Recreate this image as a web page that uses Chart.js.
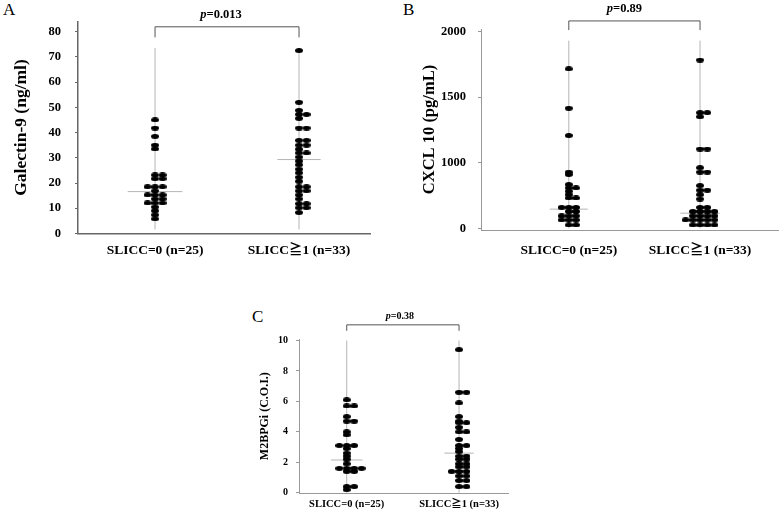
<!DOCTYPE html>
<html>
<head>
<meta charset="utf-8">
<script src="https://cdn.jsdelivr.net/npm/chart.js@4.4.1/dist/chart.umd.min.js"></script>
<style>
  body { margin: 0; background: #fff; width: 783px; height: 514px; position: relative; overflow: hidden; font-family: "Liberation Serif", serif; }
  .panel { position: absolute; }
  .tag { position: absolute; font-size: 17px; line-height: 17px; color: #000; }
</style>
</head>
<body>
<div class="tag" style="left:3px;top:1px">A</div>
<div class="tag" style="left:403px;top:1px">B</div>
<div class="tag" style="left:252px;top:308px">C</div>
<div class="panel" style="left:0;top:0;width:390px;height:270px"><canvas id="chartA"></canvas></div>
<div class="panel" style="left:390px;top:0;width:393px;height:270px"><canvas id="chartB"></canvas></div>
<div class="panel" style="left:220px;top:300px;width:300px;height:214px"><canvas id="chartC"></canvas></div>
<script>
// groups on the x axis
const groups = ["SLICC=0 (n=25)", "SLICC\u22671 (n=33)"];

// A: Galectin-9 (ng/ml)
const galLow = [45, 41.8, 38.5, 35, 33.5, 23.2, 23.2, 21.7, 21.7, 18.5, 18.5, 18.5, 16.9,
  15.3, 15.3, 15.3, 13.7, 13.7, 12.1, 12.1, 12.1, 10.5, 9, 7.4, 5.8];
const galHigh = [72.5, 52, 48.8, 47.2, 47.2, 45.6, 41.8, 41.8, 36.9, 36.9, 35, 35, 33.4,
  31.9, 31.9, 30.3, 28.7, 27.2, 25.5, 24, 22.3, 20.7, 18.5, 18.5, 16.9, 16.9, 15.3, 13.7,
  11.8, 11.8, 10.2, 10.2, 8.3];
const galMedian = [16.6, 29.3];
const galRange = [1.6, 73.5];
const galTicks = [0, 10, 20, 30, 40, 50, 60, 70, 80];

// B: CXCL 10 (pg/mL)
const cxLow = [1715, 1415, 1207, 856, 820, 667, 615, 615, 564, 513, 462, 462, 318, 318, 318,
  256, 256, 190, 190, 190, 128, 128, 128, 51, 51];
const cxHigh = [1782, 1381, 1381, 1350, 1104, 1104, 923, 856, 856, 651, 580, 580, 513, 446,
  318, 318, 256, 256, 256, 256, 190, 190, 190, 190, 128, 128, 128, 128, 128, 51, 51, 51, 51];
const cxMedian = [292, 230];
const cxRange = [0, 1930];
const cxTicks = [0, 1000, 1500, 2000];

// C: M2BPGi (C.O.I.)
const m2Low = [6.1, 5.7, 5.7, 5.0, 4.7, 4.7, 4.0, 3.8, 3.1, 3.1, 3.1, 2.9, 2.6, 2.4, 2.2, 1.9,
  1.6, 1.6, 1.6, 1.6, 1.4, 1.4, 0.4, 0.4, 0.2];
const m2High = [9.4, 6.6, 6.6, 5.9, 5.0, 4.7, 4.6, 4.6, 4.3, 4.0, 4.0, 3.5, 3.1, 3.1, 2.9, 2.7,
  2.4, 2.4, 2.2, 2.2, 1.9, 1.9, 1.7, 1.7, 1.4, 1.4, 1.4, 1.1, 1.1, 0.8, 0.8, 0.4, 0.4];
const m2Median = [2.15, 2.6];
const m2Range = [0, 10];
const m2Ticks = [0, 2, 4, 6, 8, 10];

const pValues = ["0.013", "0.89", "0.38"];

const SERIF = "'Liberation Serif', 'Noto Sans CJK JP', serif";

// the CXCL axis has evenly spaced labels 0, 1000, 1500, 2000 -> map piecewise
function tickScale(ticks) {
  return v => {
    let i = 0;
    while (i < ticks.length - 2 && v > ticks[i + 1]) i++;
    return i + (v - ticks[i]) / (ticks[i + 1] - ticks[i]);
  };
}

function ellipse(w, h) {
  const c = document.createElement("canvas");
  c.width = w; c.height = h;
  const g = c.getContext("2d");
  g.fillStyle = "#000";
  g.beginPath();
  g.ellipse(w / 2, h / 2, w / 2, h / 2, 0, 0, Math.PI * 2);
  g.fill();
  return c;
}

// equal values sit side by side in a row
function dotColumn(values, center, step, toY) {
  const counts = new Map();
  values.forEach(v => counts.set(v, (counts.get(v) || 0) + 1));
  const pts = [];
  for (const [v, n] of counts) {
    for (let k = 0; k < n; k++) {
      pts.push({ x: center + (k - Math.floor((n - 1) / 2)) * step, y: toY(v) });
    }
  }
  return pts;
}

const bracketPlugin = {
  id: "bracket",
  afterDatasetsDraw(chart, args, o) {
    const { ctx, scales: { x, y } } = chart;
    const x1 = x.getPixelForValue(1), x2 = x.getPixelForValue(2);
    const yb = y.getPixelForValue(o.toY(o.bar)), yf = y.getPixelForValue(o.toY(o.foot));
    ctx.save();
    ctx.strokeStyle = o.color;
    ctx.lineWidth = 1;
    ctx.beginPath();
    ctx.moveTo(x1, yf); ctx.lineTo(x1, yb); ctx.lineTo(x2, yb); ctx.lineTo(x2, yf);
    ctx.stroke();
    const rest = "=" + o.p;
    ctx.font = `italic bold ${o.size}px ${SERIF}`;
    const pw = ctx.measureText("p").width;
    ctx.font = `bold ${o.size}px ${SERIF}`;
    const rw = ctx.measureText(rest).width;
    let tx = (x1 + x2) / 2 + o.shift - (pw + rw) / 2;
    const ty = y.getPixelForValue(o.toY(o.text));
    ctx.fillStyle = "#000";
    ctx.textBaseline = "middle";
    ctx.textAlign = "left";
    ctx.font = `italic bold ${o.size}px ${SERIF}`;
    ctx.fillText("p", tx, ty);
    ctx.font = `bold ${o.size}px ${SERIF}`;
    ctx.fillText(rest, tx + pw, ty);
    ctx.restore();
  }
};

function buildPanel(id, p) {
  const toY = p.toY || (v => v);
  const marker = ellipse(p.dot[0], p.dot[1]);
  const datasets = [];
  p.series.forEach((vals, i) => {
    const c = i + 1;
    datasets.push({
      type: "scatter", data: dotColumn(vals, c, p.step, toY),
      pointStyle: marker, pointRadius: 4, clip: false, order: 0
    });
    datasets.push({
      type: "line", data: [{ x: c, y: toY(p.range[0]) }, { x: c, y: toY(p.range[1]) }],
      borderColor: "#b5b5b5", borderWidth: 1, pointRadius: 0, order: 2
    });
    const m = toY(p.median[i]);
    datasets.push({
      type: "line", data: [{ x: c - p.medHalf[i], y: m }, { x: c + p.medHalf[i], y: m }],
      borderColor: "#b5b5b5", borderWidth: 1, pointRadius: 0, order: 1
    });
  });

  return new Chart(document.getElementById(id), {
    type: "scatter",
    data: { datasets },
    plugins: [bracketPlugin],
    options: {
      responsive: true,
      maintainAspectRatio: false,
      animation: false,
      events: [],
      layout: { padding: { top: p.padTop, right: p.padRight, left: 0, bottom: 0 } },
      plugins: {
        legend: { display: false },
        tooltip: { enabled: false },
        bracket: Object.assign({ toY, color: "#555", shift: 0 }, p.bracket)
      },
      scales: {
        x: {
          type: "linear", min: p.xMin, max: p.xMax,
          afterBuildTicks: s => { s.ticks = [{ value: 1 }, { value: 2 }]; },
          afterFit: s => { s.height = p.xAxisH; },
          ticks: {
            callback: (v, i) => groups[i], color: "#000", padding: p.xPad,
            maxRotation: 0, autoSkip: false,
            font: { family: SERIF, weight: "bold", size: p.xFont }
          },
          grid: { display: false, drawTicks: false },
          border: { color: p.axisColor, width: p.axisWidth }
        },
        y: {
          type: "linear", min: p.yMin, max: p.yMax,
          afterBuildTicks: s => { s.ticks = p.ticks.map(v => ({ value: toY(v) })); },
          afterFit: s => { s.width = p.yAxisW; },
          ticks: {
            callback: (v, i) => p.ticks[i], color: "#000", padding: p.yPad,
            font: { family: SERIF, weight: "bold", size: p.yFont }
          },
          grid: { drawOnChartArea: false, drawTicks: true, tickLength: 3, color: p.axisColor },
          border: { color: p.axisColor, width: p.axisWidth },
          title: {
            display: true, text: p.title, color: "#000",
            padding: { top: p.titlePad, bottom: 0 },
            font: { family: SERIF, weight: "bold", size: p.titleFont }
          }
        }
      }
    }
  });
}

buildPanel("chartA", {
  series: [galLow, galHigh], median: galMedian, range: galRange, ticks: galTicks,
  title: "Galectin-9 (ng/ml)", titleFont: 17.5, titlePad: 11,
  dot: [8, 5], step: 0.052, medHalf: [0.19, 0.15],
  xMin: 0.465, xMax: 2.493, yMin: 0, yMax: 84,
  padTop: 13, padRight: 20, yAxisW: 78, xAxisH: 36.5,
  yPad: 14, xPad: 9, yFont: 12.5, xFont: 13.5,
  axisColor: "#666", axisWidth: 1.5,
  bracket: { p: pValues[0], bar: 81.9, foot: 77.7, text: 86.8, size: 12.5, shift: -6 }
});

buildPanel("chartB", {
  series: [cxLow, cxHigh], median: cxMedian, range: cxRange, ticks: cxTicks,
  toY: tickScale(cxTicks),
  title: "CXCL 10 (pg/mL)", titleFont: 16.5, titlePad: 30,
  dot: [8, 5], step: 0.055, medHalf: [0.145, 0.15],
  xMin: 0.331, xMax: 2.594, yMin: -0.026, yMax: 3.037,
  padTop: 29, padRight: 1, yAxisW: 91, xAxisH: 40,
  yPad: 12, xPad: 12, yFont: 12.5, xFont: 13.5,
  axisColor: "#999", axisWidth: 1,
  bracket: { p: pValues[1], bar: 2080, foot: 2010, text: 2170, size: 12.5, shift: -10 }
});

buildPanel("chartC", {
  series: [m2Low, m2High], median: m2Median, range: m2Range, ticks: m2Ticks,
  title: "M2BPGi (C.O.I.)", titleFont: 12, titlePad: 38,
  dot: [8, 5], step: 0.066, medHalf: [0.14, 0.13],
  xMin: 0.575, xMax: 2.436, yMin: -0.04, yMax: 10.1,
  padTop: 39, padRight: 12, yAxisW: 79, xAxisH: 20.7,
  yPad: 8, xPad: 5, yFont: 10, xFont: 10.5,
  axisColor: "#999", axisWidth: 1,
  bracket: { p: pValues[2], bar: 11.03, foot: 10.64, text: 11.56, size: 10, shift: -3 }
});
</script>
</body>
</html>
